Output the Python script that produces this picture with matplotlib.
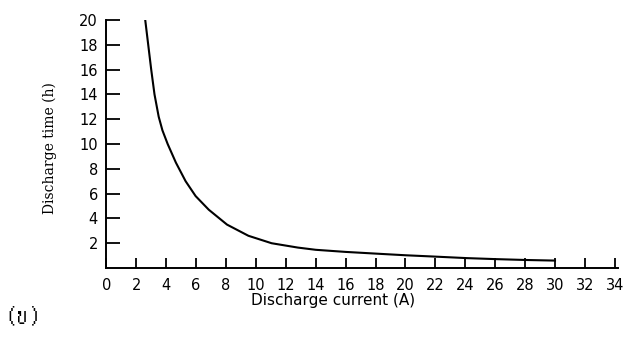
import matplotlib
matplotlib.use('Agg')
import matplotlib.pyplot as plt
from matplotlib import font_manager
from matplotlib.ft2font import FT2Font

# values
current = [2.6, 2.8, 3.0, 3.22, 3.5, 3.75, 4.1, 4.65, 5.3, 5.97, 6.85, 8.07, 9.5,
           11.05, 12.8, 14.0, 16.0, 18.5, 20.0, 22.0, 24.1, 26.0, 28.0, 30.0]
hours = [20.0, 18.0, 16.0, 14.0, 12.2, 11.1, 10.0, 8.5, 7.0, 5.8, 4.7, 3.5, 2.6,
         2.0, 1.65, 1.47, 1.3, 1.13, 1.03, 0.92, 0.8, 0.72, 0.65, 0.6]
xticks = list(range(0, 35, 2))
yticks = list(range(2, 21, 2))


def thai_family():
    # look for any installed font that has Thai letters
    for path in font_manager.findSystemFonts():
        try:
            if ord('ข') in FT2Font(path).get_charmap():
                return font_manager.FontProperties(fname=path).get_name()
        except Exception:
            pass
    return 'DejaVu Sans'


fig = plt.figure(figsize=(6.33, 3.38), dpi=100)
ax = fig.add_axes([0.168, 0.207, 0.808, 0.734])

ax.plot(current, hours, color='black', lw=1.5)

ax.set_xlim(0, 34.2)
ax.set_ylim(0, 20)
ax.set_xticks(xticks)
ax.set_yticks(yticks)
ax.tick_params(axis='x', direction='in', length=7, width=1.3, pad=7, labelsize=10.5)
ax.tick_params(axis='y', direction='in', length=10, width=1.3, pad=6, labelsize=10.5)
for s in ['top', 'right']:
    ax.spines[s].set_visible(False)
for s in ['left', 'bottom']:
    ax.spines[s].set_linewidth(1.4)

fig.text(333 / 633, 1 - 301 / 338, 'Discharge current (A)', ha='center', va='center', fontsize=11)
fig.text(50 / 633, 1 - 148 / 338, 'Discharge time (h)', ha='center', va='center',
         rotation=90, fontsize=10, family='DejaVu Serif')
fig.text(4 / 633, 1 - 316 / 338, '(ข)', ha='left', va='center', fontsize=18,
         fontweight='bold', style='italic', family=[thai_family(), 'DejaVu Sans'])

fig.savefig('out.png', dpi=100)
